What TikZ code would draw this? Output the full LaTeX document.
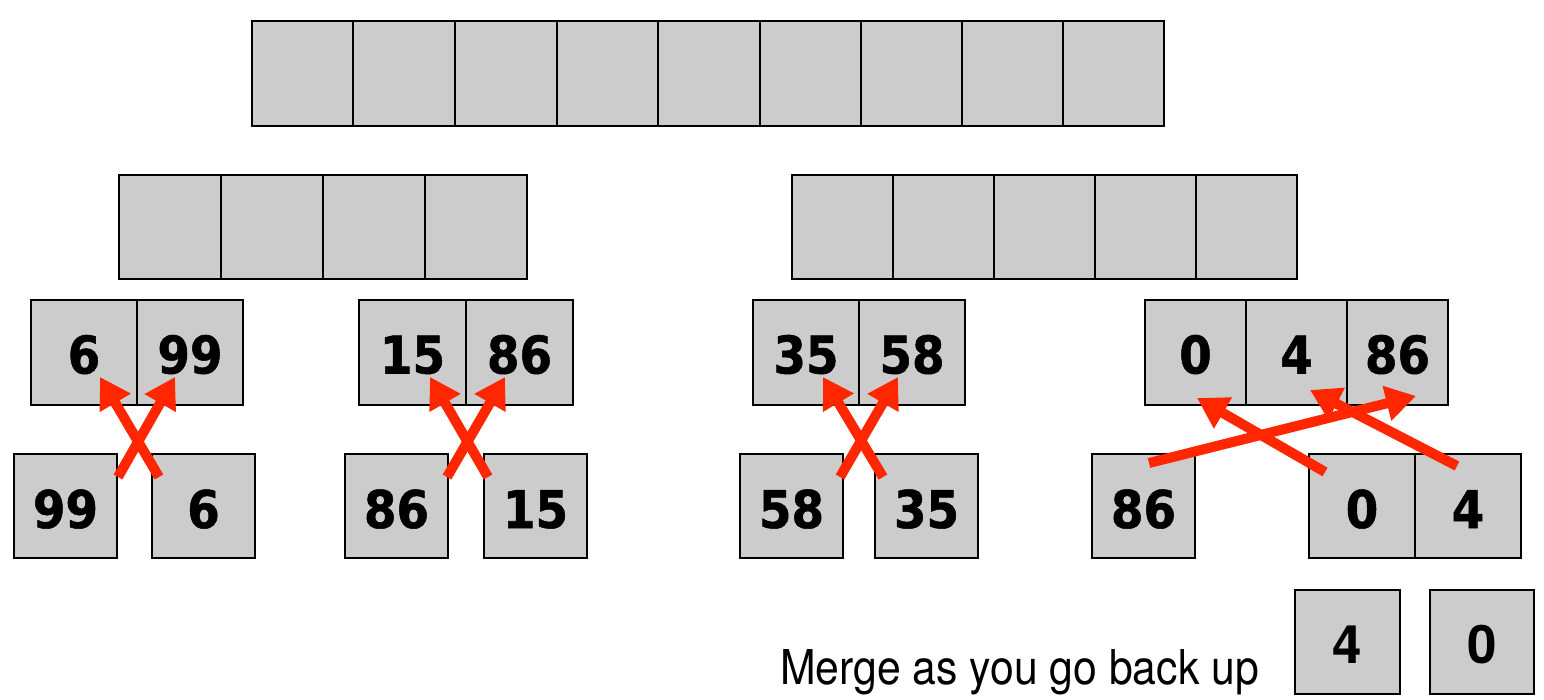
\documentclass[tikz,border=0pt]{standalone}
\usepackage{fontspec}
\usetikzlibrary{arrows.meta}
\newfontfamily\numfont[UprightFont=* Bold, FakeStretch=0.9, FakeBold=1]{DejaVu Sans}
\newfontfamily\helvfont[UprightFont=* Bold]{TeX Gyre Heros}
\newfontfamily\mergefont[FakeStretch=0.89]{TeX Gyre Heros}
\definecolor{cellgray}{RGB}{204,204,204}
\definecolor{arrowred}{RGB}{255,38,0}
\tikzset{
  cell/.style={draw=black, line width=1.2pt, fill=cellgray, inner sep=0pt,
    font=\numfont\fontsize{52}{52}\selectfont, text height=42pt, text depth=0pt},
  lowcell/.style={cell, text height=44pt},
  cellB/.style={cell, font=\helvfont\fontsize{53}{53}\selectfont, text height=42pt},
  swaparrow/.style={draw=arrowred, line width=10pt, -{Triangle[length=30pt,width=34pt]}},
}
\begin{document}
\begin{tikzpicture}[x=1pt,y=-1pt]
\useasboundingbox (0,0) rectangle (1544,700);
% row 1
\foreach \l/\r [count=\i from 0] in {252/353,353/455,455/557,557/658,658/760,760/861,861/962,962/1063,1063/1164}
  \node[cell, minimum width={(\r-\l)*1pt}, minimum height=105pt] (top\i) at ({(\l+\r)/2},73.5) {};
% row 2
\foreach \l/\r [count=\i from 0] in {119/221,221/323,323/425,425/527}
  \node[cell, minimum width={(\r-\l)*1pt}, minimum height=104pt] (L\i) at ({(\l+\r)/2},227) {};
\foreach \l/\r [count=\i from 0] in {792/893,893/994,994/1095,1095/1196,1196/1297}
  \node[cell, minimum width={(\r-\l)*1pt}, minimum height=104pt] (R\i) at ({(\l+\r)/2},227) {};
% row 3
\node[cell, minimum width=106pt, minimum height=105pt] (a1) at (84,352.5) {6};
\node[cell, minimum width=106pt, minimum height=105pt] (a2) at (190,352.5) {99};
\node[cell, minimum width=107pt, minimum height=105pt] (b1) at (412.5,352.5) {15};
\node[cell, minimum width=107pt, minimum height=105pt] (b2) at (519.5,352.5) {86};
\node[cell, minimum width=106pt, minimum height=105pt] (c1) at (806,352.5) {35};
\node[cell, minimum width=106pt, minimum height=105pt] (c2) at (912,352.5) {58};
\node[cell, minimum width=101pt, minimum height=105pt] (d1) at (1195.5,352.5) {0};
\node[cell, minimum width=101pt, minimum height=105pt] (d2) at (1296.5,352.5) {4};
\node[cell, minimum width=101pt, minimum height=105pt] (d3) at (1397.5,352.5) {86};
% row 4
\node[lowcell, minimum width=103pt, minimum height=104pt] (a3) at (65.5,506) {99};
\node[lowcell, minimum width=103pt, minimum height=104pt] (a4) at (203.5,506) {6};
\node[lowcell, minimum width=103pt, minimum height=104pt] (b3) at (396.5,506) {86};
\node[lowcell, minimum width=103pt, minimum height=104pt] (b4) at (535.5,506) {15};
\node[lowcell, minimum width=103pt, minimum height=104pt] (c3) at (791.5,506) {58};
\node[lowcell, minimum width=103pt, minimum height=104pt] (c4) at (926.5,506) {35};
\node[lowcell, minimum width=103pt, minimum height=104pt] (d4) at (1143.5,506) {86};
\node[lowcell, minimum width=106pt, minimum height=104pt] (d5) at (1362,506) {0};
\node[lowcell, minimum width=106pt, minimum height=104pt] (d6) at (1468,506) {4};
% row 5
\node[cellB, minimum width=105pt, minimum height=104pt] (e1) at (1347.5,642) {4};
\node[cellB, minimum width=104pt, minimum height=104pt] (e2) at (1482,642) {0};
\node[anchor=base west, inner sep=0pt, font=\mergefont\fontsize{48}{48}\selectfont] (merge) at (780,684) {Merge as you go back up};
% arrow ends
\coordinate (aS1) at (159,477); \coordinate (aE1) at (100,377);
\coordinate (aS2) at (118,477); \coordinate (aE2) at (175,377);
\coordinate (bS1) at (488,477); \coordinate (bE1) at (430,377);
\coordinate (bS2) at (447,477); \coordinate (bE2) at (505,377);
\coordinate (cS1) at (883,477); \coordinate (cE1) at (823,377);
\coordinate (cS2) at (840,477); \coordinate (cE2) at (898,377);
\coordinate (dS1) at (1325,472); \coordinate (dE1) at (1197,398);
\coordinate (dS2) at (1457,466); \coordinate (dE2) at (1310,390);
\coordinate (dS3) at (1149,463); \coordinate (dE3) at (1416,396);
% arrows
\draw[swaparrow] (aS1) -- (aE1);
\draw[swaparrow] (aS2) -- (aE2);
\draw[swaparrow] (bS1) -- (bE1);
\draw[swaparrow] (bS2) -- (bE2);
\draw[swaparrow] (cS1) -- (cE1);
\draw[swaparrow] (cS2) -- (cE2);
\draw[swaparrow] (dS1) -- (dE1);
\draw[swaparrow] (dS2) -- (dE2);
\draw[swaparrow] (dS3) -- (dE3);
\end{tikzpicture}
\end{document}
